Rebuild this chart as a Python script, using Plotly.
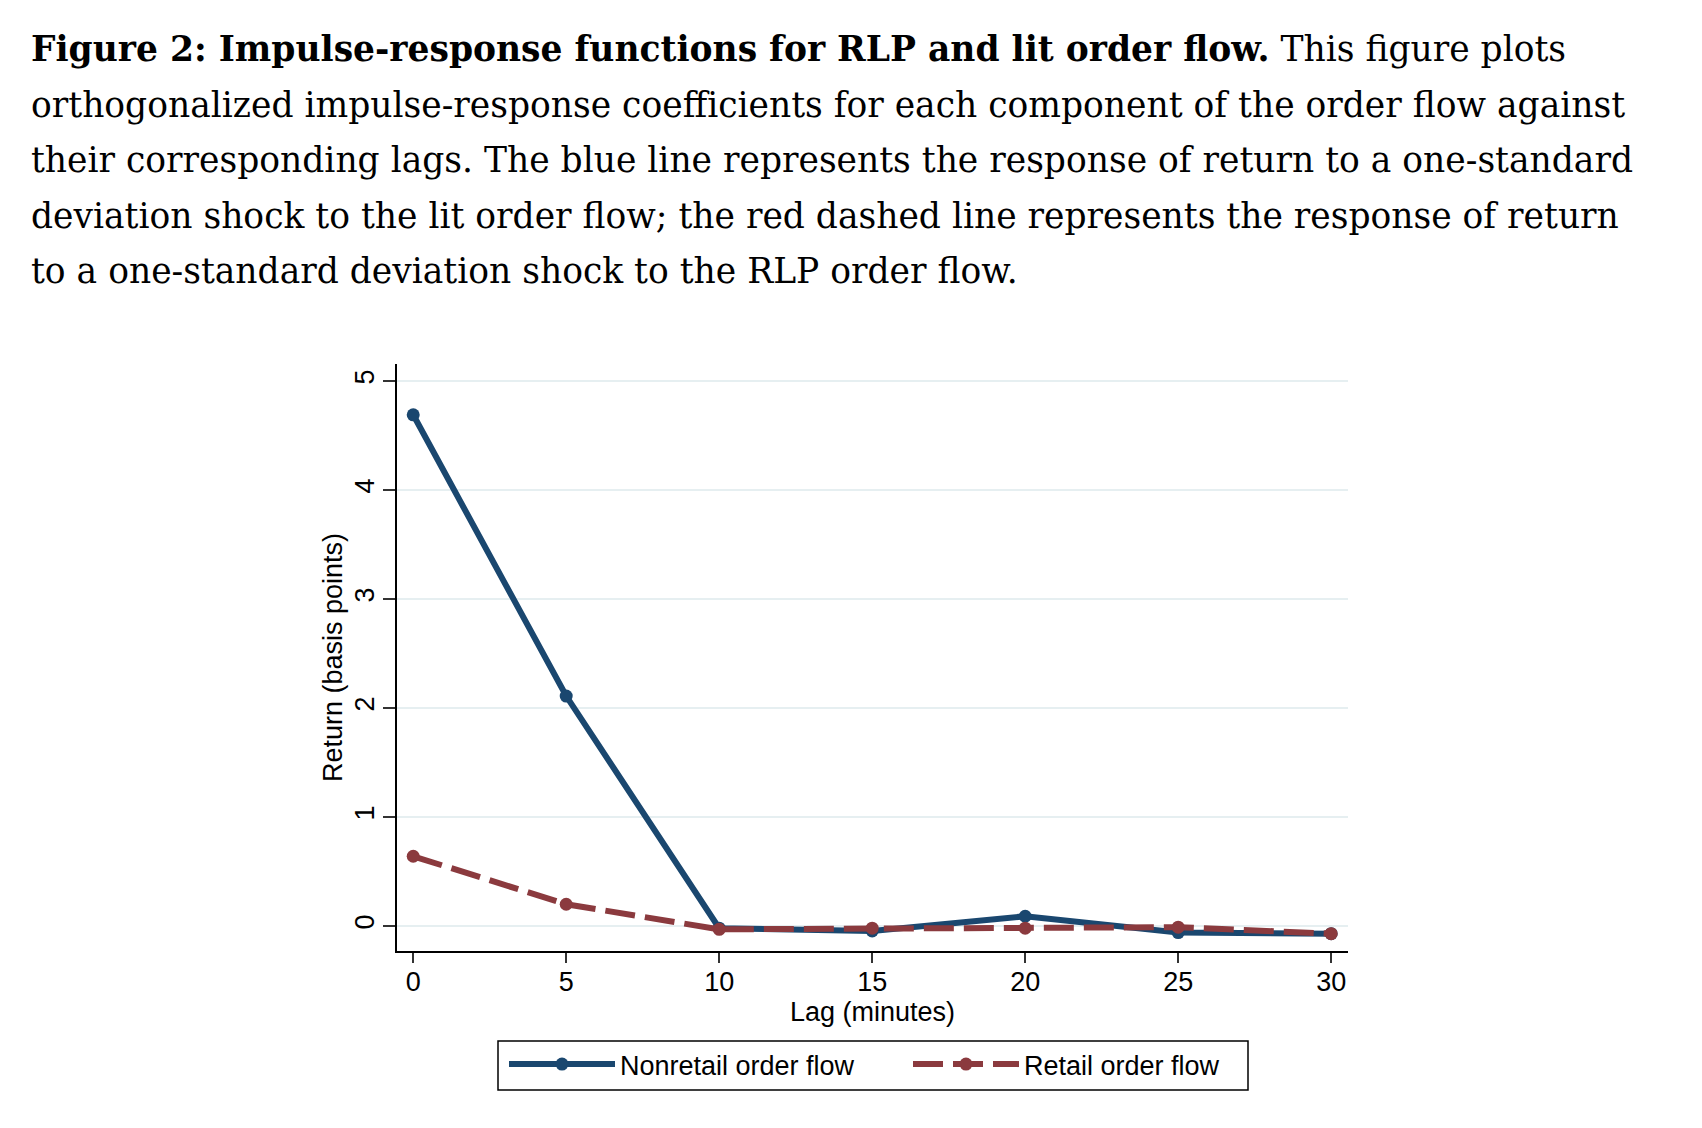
import plotly.graph_objects as go

# ---- data ----
lags = [0, 5, 10, 15, 20, 25, 30]
nonretail = [4.69, 2.11, -0.02, -0.045, 0.09, -0.06, -0.07]
retail = [0.64, 0.20, -0.03, -0.02, -0.02, -0.01, -0.07]
x_ticks = [0, 5, 10, 15, 20, 25, 30]
y_ticks = [0, 1, 2, 3, 4, 5]
series_names = ["Nonretail order flow", "Retail order flow"]
caption_lines = [
    "<b>Figure 2: Impulse-response functions for RLP and lit order flow.</b> This figure plots",
    "orthogonalized impulse-response coefficients for each component of the order flow against",
    "their corresponding lags. The blue line represents the response of return to a one-standard",
    "deviation shock to the lit order flow; the red dashed line represents the response of return",
    "to a one-standard deviation shock to the RLP order flow.",
]

W, H = 1702, 1128
L, R, T, B = 389, 1340, 356, 943  # plot area in pixels

NAVY = "#1a476f"
MAROON = "#8b3a3e"
SANS = "Liberation Sans, Arial, sans-serif"

fig = go.Figure()
fig.add_trace(go.Scatter(
    x=lags, y=nonretail, name=series_names[0], mode="lines+markers",
    line=dict(color=NAVY, width=6),
    marker=dict(color=NAVY, size=13, symbol="circle"),
))
fig.add_trace(go.Scatter(
    x=lags, y=retail, name=series_names[1], mode="lines+markers",
    line=dict(color=MAROON, width=6, dash="30px,10px"),
    marker=dict(color=MAROON, size=13, symbol="circle"),
))

def py(pix):
    return (B - pix) / (B - T)

def px(pix):
    return (pix - L) / (R - L)

baselines = [54, 109.5, 165, 220.5, 276]
for line, base in zip(caption_lines, baselines):
    fig.add_annotation(
        text=line, xref="paper", yref="paper",
        x=px(21), y=py(base + 9), xanchor="left", yanchor="bottom",
        showarrow=False, align="left",
        font=dict(family="DejaVu Serif, serif", size=34.5, color="#000000"),
    )

# legend frame
fig.add_shape(
    type="rect", xref="paper", yref="paper",
    x0=px(490), x1=px(1240), y0=py(1082), y1=py(1033),
    line=dict(color="#000000", width=1.5), fillcolor="rgba(0,0,0,0)", layer="above",
)

fig.update_layout(
    width=W, height=H,
    margin=dict(l=L, r=W - R, t=T, b=H - B, autoexpand=False),
    paper_bgcolor="white", plot_bgcolor="white",
    font=dict(family=SANS, size=27, color="#000000"),
    showlegend=True,
    legend=dict(
        orientation="h", x=px(496), xanchor="left", y=py(1032), yanchor="top",
        borderwidth=0, bgcolor="rgba(0,0,0,0)",
        font=dict(family=SANS, size=27, color="#000000"),
        itemwidth=106, entrywidth=283,
    ),
    xaxis=dict(
        range=[-0.53, 30.55], tickvals=x_ticks, ticktext=[str(v) for v in x_ticks],
        showgrid=False, zeroline=False,
        showline=True, linecolor="#000000", linewidth=1.5,
        ticks="outside", ticklen=10, tickwidth=1.5, tickcolor="#333333",
        tickfont=dict(family=SANS, size=27), ticklabelstandoff=-4,
        title=dict(text="Lag (minutes)", font=dict(family=SANS, size=27), standoff=0),
    ),
    yaxis=dict(
        range=[-0.229, 5.156], tickvals=y_ticks, ticktext=[str(v) for v in y_ticks],
        tickangle=-90,
        showgrid=True, gridcolor="#e6eff1", gridwidth=1.5, zeroline=False,
        showline=True, linecolor="#000000", linewidth=1.5,
        ticks="outside", ticklen=12, tickwidth=1.5, tickcolor="#333333",
        tickfont=dict(family=SANS, size=27), ticklabelstandoff=-2,
        title=dict(text="Return (basis points)", font=dict(family=SANS, size=27), standoff=0),
    ),
)

fig.write_html("out.html")
